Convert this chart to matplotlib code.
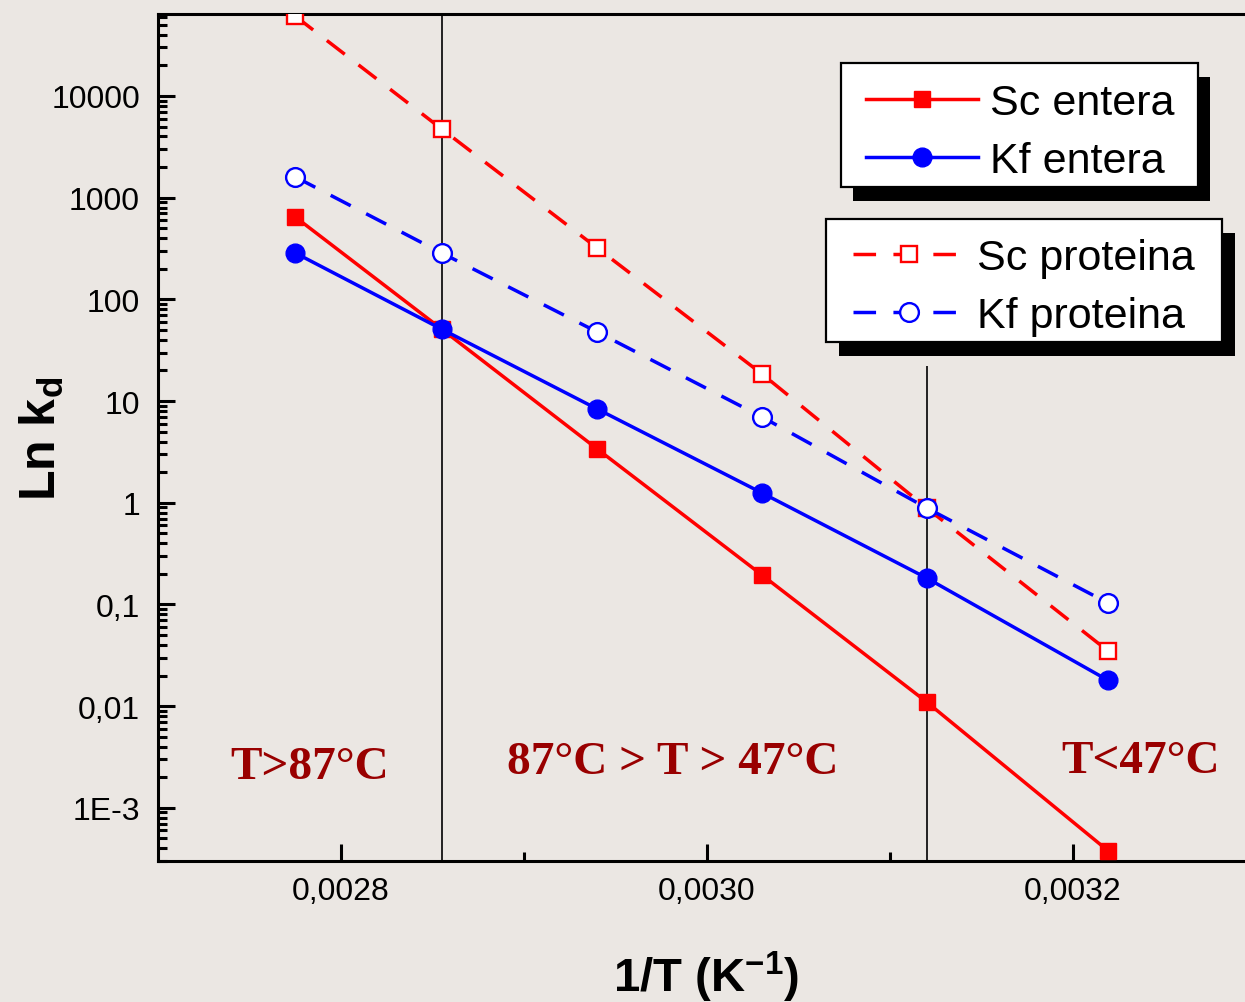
import matplotlib
matplotlib.use('Agg')
import matplotlib.pyplot as plt
from matplotlib.patches import Rectangle

# 1/T values (K^-1) and kd for each series
inv_T = [0.002775, 0.002855, 0.00294, 0.00303, 0.00312, 0.003219]
sc_entera = [646, 51, 3.38, 0.195, 0.011, 0.00038]
kf_entera = [286, 51, 8.36, 1.25, 0.182, 0.018]
sc_proteina = [61000, 4740, 320, 18.5, 0.89, 0.035]
kf_proteina = [1600, 286, 47.8, 6.98, 0.89, 0.1035]

# region borders
border_x = [0.002855, 0.00312]
border_top = [64000, 22]

ytick_vals = [1e-3, 1e-2, 1e-1, 1, 10, 100, 1000, 10000]
ytick_labels = ['1E-3', '0,01', '0,1', '1', '10', '100', '1000', '10000']
xtick_vals = [0.0028, 0.0030, 0.0032]
xtick_labels = ['0,0028', '0,0030', '0,0032']

bg = '#ebe7e3'
red = '#ff0000'
blue = '#0000ff'
darkred = '#990000'

plt.rcParams['font.family'] = ['Liberation Sans', 'DejaVu Sans']
plt.rcParams['mathtext.default'] = 'regular'

W, H = 1245, 1003
fig = plt.figure(figsize=(W / 100, H / 100), dpi=100, facecolor=bg)
ax = fig.add_axes([158/W, 141/H, 1098/W, 847/H])
ax.set_facecolor(bg)

dash = (0, (6.5, 5))
l1, = ax.plot(inv_T, sc_entera, '-s', color=red, lw=2.5, ms=11.5, mfc=red, mec=red, label='Sc entera', zorder=4)
l2, = ax.plot(inv_T, kf_entera, '-o', color=blue, lw=2.5, ms=13.5, mfc=blue, mec=blue, label='Kf entera', zorder=4)
l3, = ax.plot(inv_T, sc_proteina, 's', ls=dash, color=red, lw=2.5, ms=11.5, mfc='white', mec=red, mew=1.7,
              label='Sc proteina', zorder=4)
l4, = ax.plot(inv_T, kf_proteina, 'o', ls=dash, color=blue, lw=2.5, ms=13.5, mfc='white', mec=blue, mew=1.7,
              label='Kf proteina', zorder=4)

ax.set_yscale('log')
ax.set_xlim(0.0027, 0.0033)
ax.set_ylim(3.0e-4, 6.4e4)

# vertical border lines
ax.vlines(border_x, [3.0e-4, 3.0e-4], border_top, color='black', lw=1.2, zorder=3)

ax.set_yticks(ytick_vals, ytick_labels)
ax.set_xticks(xtick_vals, xtick_labels)
ax.set_xticks([0.0029, 0.0031], minor=True)
ax.tick_params(axis='both', which='major', direction='in', length=12, width=2.2, labelsize=23, pad=11)
ax.tick_params(axis='both', which='minor', direction='in', length=6.5, width=2.2)
ax.tick_params(axis='y', pad=13)

for s in ['left', 'bottom', 'top']:
    ax.spines[s].set_linewidth(2.2)
ax.spines['right'].set_visible(False)

ax.set_xlabel(r'1/T (K$^{-1}$)', fontsize=34, fontweight='bold')
ax.set_ylabel(r'Ln k$_{d}$', fontsize=36, fontweight='bold')
ax.xaxis.set_label_coords(0.499, -0.104)
ax.yaxis.set_label_coords(-0.084, 0.50)

# temperature region labels
tfont = dict(family='Liberation Serif', fontweight='bold', fontsize=34, color=darkred, ha='center', va='center')
ax.text(0.002783, 0.0025, 'T>87°C', **tfont)
ax.text(0.0029814, 0.0028, '87°C > T > 47°C', **tfont)
ax.text(0.003237, 0.0029, 'T<47°C', **tfont)


def legend_box(x0, y0, x1, y1, sx, sy):
    # white frame with a solid black drop shadow, pixel coords from top-left
    sh = Rectangle((x0 + sx, H - y1 - sy), x1 - x0, y1 - y0, transform=None, facecolor='black',
                   edgecolor='none', clip_on=False, zorder=4.6)
    fr = Rectangle((x0, H - y1), x1 - x0, y1 - y0, transform=None, facecolor='white',
                   edgecolor='black', lw=1.6, clip_on=False, zorder=4.7)
    ax.add_artist(sh)
    ax.add_artist(fr)


legend_box(841, 64, 1198, 188, 12, 14)
legend_box(826, 220, 1222, 343, 13, 14)

leg_kw = dict(fontsize=31, frameon=False, handlelength=2.6, handletextpad=0.28, borderpad=0,
              labelspacing=0.42, borderaxespad=0, loc='center left', bbox_transform=fig.transFigure)
leg1 = ax.legend(handles=[l1, l2], bbox_to_anchor=(866/W, 1 - 133/H), **leg_kw)
leg1.set_zorder(5)
ax.add_artist(leg1)
leg2 = ax.legend(handles=[l3, l4], bbox_to_anchor=(853/W, 1 - 288/H), **leg_kw)
leg2.set_zorder(5)

fig.savefig('out.png', dpi=100, facecolor=bg)
